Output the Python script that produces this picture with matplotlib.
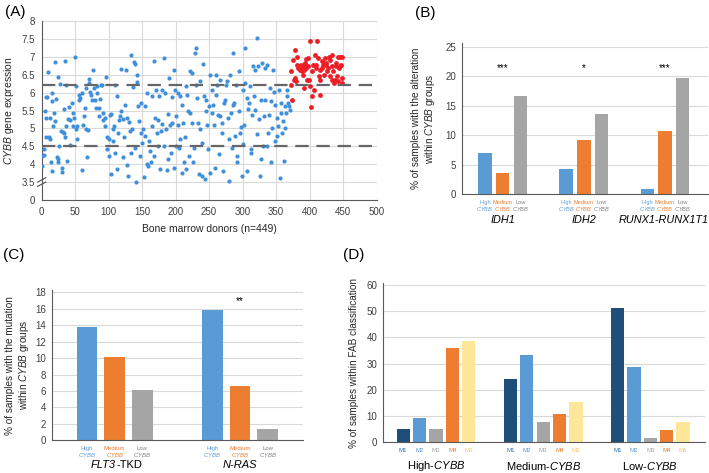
import numpy as np
import matplotlib
matplotlib.use("Agg")
import matplotlib.pyplot as plt

plt.rcParams['font.family'] = ['Liberation Sans', 'DejaVu Sans']
plt.rcParams['mathtext.fontset'] = 'custom'
plt.rcParams['mathtext.rm'] = 'Liberation Sans'
plt.rcParams['mathtext.it'] = 'Liberation Sans:italic'

# ---- panel A: CYBB expression per donor ----
blue_x = [0, 1, 3, 4, 5, 7, 6, 8, 7, 10, 11, 12, 13, 14, 15, 15, 16, 17, 18, 20, 20, 21, 23, 24, 25, 25, 26, 27, 29, 30, 30, 32, 33, 34, 35, 35, 36, 37, 38,
          40, 41, 42, 43, 45, 46, 47, 48, 50, 51, 51, 52, 53, 55, 56, 57, 60, 60, 62, 63, 65, 66, 66, 68, 69, 70, 71, 72, 73, 75, 77, 78, 80, 81, 82, 83, 85, 86,
          87, 89, 90, 91, 92, 94, 95, 96, 97, 98, 100, 101, 102, 103, 104, 106, 107, 108, 109, 110, 112, 113, 114, 115, 117, 118, 119, 121, 122, 123, 124, 126,
          127, 128, 129, 130, 132, 133, 134, 135, 137, 138, 139, 139, 141, 142, 143, 144, 146, 147,
          148, 149, 150, 152, 153, 154, 155, 157, 158, 159, 160, 162, 163, 164, 165, 167, 168, 169, 170, 172, 173, 174, 175, 177, 178, 179, 180, 182, 183, 184,
          185, 187, 188, 189, 190, 192, 193, 194, 195, 197, 198, 199, 200, 201, 203, 204, 205,
          206, 207, 209, 210, 211, 212, 214, 215, 216, 217, 219, 220, 221, 222, 224, 225, 226, 227, 229, 230, 231, 232, 234, 235, 236, 237, 239, 240, 241, 242,
          244, 245, 246, 247, 249, 250, 251, 252, 254, 255, 256, 257, 259, 260, 261, 262, 264, 265,
          266, 267, 269, 270, 271, 272, 274, 275, 276, 278, 279, 280, 281, 282, 284, 285, 286, 287, 289, 290, 291, 292, 294, 295, 296, 297, 299, 300, 301, 302,
          303, 304, 306, 307, 308, 309, 311, 312, 313, 314, 316, 317, 318, 319, 321, 322, 323, 324, 326, 327, 328, 329, 331, 332, 333, 334,
          336, 337, 338, 339, 341, 342, 343, 344, 346, 347, 348, 349, 351, 352, 353, 354, 356, 357, 358, 359, 361, 362, 363, 364, 366, 367, 368, 369, 371, 365]
blue_y = [3.95, 4.23, 4.25, 4.43, 5.48, 5.3, 5.88, 5.87, 4.75, 6.57, 4.75, 5.3, 4.7, 4.05, 5.76, 6.0, 3.8, 5.06, 5.43, 6.85, 5.22, 5.82, 4.2, 4.05, 4.14,
          6.43, 4.5, 6.25, 4.93, 3.9, 3.78, 4.91, 5.55, 4.88, 6.87, 4.76, 6.2, 5.06, 4.1,
          5.25, 5.6, 5.23, 4.53, 5.72, 5.43, 5.06, 5.3, 7.0, 6.19, 4.97, 5.08, 4.7, 5.8, 5.94, 5.85, 3.85, 6.0, 5.1, 5.35, 5.56, 6.13, 4.97, 4.2, 4.95, 6.39,
          6.27, 6.03, 5.92, 5.8, 6.64, 6.13, 5.78, 5.56, 6.18, 6.0, 5.34, 5.57,
          5.82, 6.2, 6.22, 5.23, 5.44, 5.28, 5.08, 6.43, 4.75, 4.43, 4.7, 4.23, 5.37, 5.4, 3.72, 4.64, 4.98, 5.06, 4.3, 6.2, 5.9, 3.87, 4.88, 5.23, 5.34, 5.5,
          6.67, 4.2, 5.25, 4.76, 5.65, 6.63, 5.28, 3.97, 3.66, 5.18, 4.94, 7.05, 4.32, 4.97, 6.15, 6.85, 4.46, 6.8, 3.51, 6.5, 6.29, 5.62, 5.2, 4.23,
          5.72, 4.86, 4.6, 4.98, 3.64, 5.62, 4.78, 4.0, 5.98, 3.95, 4.64, 4.37, 4.06, 5.06, 5.9, 6.89, 4.23, 5.3, 6.08, 4.88, 4.5, 5.23, 5.9, 3.86, 4.93, 6.08,
          5.12, 6.96, 4.5, 5.98, 4.99, 3.84, 4.14, 5.4, 6.42, 5.1, 4.3, 5.88, 5.14, 3.9, 6.62, 6.08, 5.34, 4.5, 5.98, 5.1, 4.44,
          4.7, 5.9, 3.76, 5.64, 5.14, 4.06, 4.76, 3.86, 6.18, 5.92, 5.5, 4.23, 6.6, 5.43, 6.55, 5.14, 4.05, 4.46, 7.1, 6.22, 7.24, 5.84, 5.16, 3.72, 6.32, 4.97,
          3.66, 4.58, 6.8, 5.9, 3.58, 5.48, 5.8, 5.1, 4.43, 5.62, 3.76, 6.5, 6.08, 5.44, 5.64, 5.1, 3.9, 5.94, 6.5, 6.22, 5.37, 4.28,
          6.36, 5.34, 5.14, 4.88, 3.8, 5.72, 5.8, 6.2, 6.32, 5.3, 4.7, 3.54, 6.5, 5.43, 4.46, 5.66, 7.1, 5.72, 4.78, 6.22, 4.05, 4.23, 6.6, 5.48, 4.88, 5.03,
          3.66, 4.56, 6.08, 5.1, 7.24, 6.27, 5.85, 3.8, 5.55, 5.72, 6.18, 4.42, 4.3, 5.37, 6.73, 5.9, 6.64, 5.52, 7.52, 4.83, 6.73, 5.25, 3.66, 5.8, 4.14, 6.82,
          4.5, 5.34, 6.68, 5.8,
          4.5, 6.78, 4.88, 5.37, 6.13, 4.05, 5.76, 5.0, 6.64, 6.03, 5.64, 4.64, 4.78, 5.3, 5.06, 6.08, 3.62, 5.43, 5.72, 4.88, 5.2, 4.1, 5.0, 5.62, 5.9, 6.08,
          5.72, 5.62, 5.52, 5.43]
red_x = [372, 373, 374, 376, 377, 378, 379, 380, 381, 382, 383, 384, 386, 387, 388, 389, 390, 391, 392, 392, 393, 394, 395, 396, 397, 398, 399, 400,
         401, 402, 403, 404, 405, 406, 408, 409, 410, 411, 413, 414, 415, 415, 416, 418, 419, 420, 421, 423, 424, 425, 426, 428, 429, 430, 431, 433, 434,
         434, 435, 436, 438, 439, 440, 441, 443, 443, 444, 445, 446, 448, 449, 449, 447]
red_y = [6.22, 6.6, 5.8, 6.92, 6.36, 7.2, 6.4, 6.32, 7.0, 6.78, 6.69, 6.73, 6.64, 6.78, 6.6, 6.69, 6.5, 6.78, 6.13, 6.64, 6.82, 6.69, 6.94, 6.36, 6.73,
         6.96, 6.36, 7.45, 6.18, 5.6, 6.6, 5.9, 6.78, 6.08, 7.05, 6.69, 6.78, 7.43, 6.96, 6.45, 6.64, 6.36, 5.94, 6.87, 6.69, 6.78, 6.5, 6.96, 6.78, 6.82,
         6.6, 6.69, 7.0, 6.45, 6.92, 6.36, 6.73, 7.05, 6.6, 6.27, 6.36, 6.73, 6.82, 6.45, 6.32, 7.0, 6.69, 7.0, 6.73, 6.4, 6.27, 7.0, 6.78]
cut_high = 6.22
cut_low = 4.5
a_yticks = [3.0, 3.5, 4.0, 4.5, 5.0, 5.5, 6.0, 6.5, 7.0, 7.5, 8.0]
a_ylabels = ['0', '3.5', '4', '4.5', '5', '5.5', '6', '6.5', '7', '7.5', '8']

# ---- panel B ----
b_genes = ['IDH1', 'IDH2', 'RUNX1-RUNX1T1']
b_high = [6.9, 4.2, 0.8]
b_medium = [3.5, 9.1, 10.6]
b_low = [16.6, 13.5, 19.6]
b_stars = ['***', '*', '***']

# ---- panel C ----
c_genes = [('FLT3', '-TKD'), ('N-RAS', '')]
c_high = [13.8, 15.9]
c_medium = [10.1, 6.6]
c_low = [6.1, 1.4]

# ---- panel D ----
d_groups = [r'High-$\mathit{CYBB}$', r'Medium-$\mathit{CYBB}$', r'Low-$\mathit{CYBB}$']
d_fab = ['M1', 'M2', 'M3', 'M4', 'M5']
d_values = [[4.9, 9.0, 4.9, 36.0, 38.7],
            [23.9, 33.2, 7.7, 10.7, 15.2],
            [51.2, 28.8, 1.5, 4.5, 7.7]]

C_BLUE = '#5b9bd5'
C_ORANGE = '#ed7d31'
C_GRAY = '#a5a5a5'
FAB_COLORS = ['#1f4e79', '#5b9bd5', '#a5a5a5', '#ed7d31', '#ffe699']
GRID = '#d9d9d9'
TXT = '#404040'
SUB = [('High', C_BLUE), ('Medium', C_ORANGE), ('Low', '#7f7f7f')]

W, H = 709, 473
fig = plt.figure(figsize=(W / 100, H / 100), dpi=100, facecolor='white')


def px_axes(left, top, right, bottom):
    return fig.add_axes([left / W, 1 - bottom / H, (right - left) / W, (bottom - top) / H])


def style_bar_axes(ax):
    for s in ('top', 'right'):
        ax.spines[s].set_visible(False)
    ax.spines['left'].set_color('#595959')
    ax.spines['bottom'].set_color('#595959')
    ax.yaxis.grid(True, color=GRID, lw=0.8)
    ax.set_axisbelow(True)
    ax.tick_params(axis='y', length=0, labelsize=7, labelcolor=TXT, pad=4)
    ax.set_xticks([])


# panel A
ax = px_axes(41.7, 21, 376.5, 200)
ax.scatter(blue_x, blue_y, s=9, color='#3f8fdb', linewidths=0, zorder=3)
ax.scatter(red_x, red_y, s=12, color='#ee1c25', linewidths=0, zorder=3)
ax.axhline(cut_high, color='#666666', lw=1.6, ls=(0, (6, 3.5)), zorder=4)
ax.axhline(cut_low, color='#666666', lw=1.6, ls=(0, (6, 3.5)), zorder=4)
ax.set_xlim(0, 500)
ax.set_ylim(3.0, 8.0)
ax.set_xticks(range(0, 501, 50))
ax.set_yticks(a_yticks)
ax.set_yticklabels(a_ylabels)
ax.grid(True, color=GRID, lw=0.8)
ax.set_axisbelow(True)
for s in ('top', 'right'):
    ax.spines[s].set_visible(False)
ax.spines['left'].set_color('#595959')
ax.spines['bottom'].set_color('#595959')
ax.tick_params(length=0, labelsize=7, labelcolor=TXT, pad=5)
ax.set_ylabel(r'$\mathit{CYBB}$ gene expression', fontsize=7.5, color='#262626', labelpad=4)
ax.set_xlabel('Bone marrow donors (n=449)', fontsize=7.5, color='#262626', labelpad=5)
for dy in (-0.012, 0.012):
    ax.plot([-0.012, 0.012], [0.1 + dy - 0.012, 0.1 + dy + 0.012], transform=ax.transAxes,
            color='#595959', lw=0.9, clip_on=False, zorder=5)
fig.text(5 / W, 1 - 12 / H, '(A)', fontsize=11, va='center', ha='left')

# panel B
ax = px_axes(461.7, 43, 708, 194)
xb = np.arange(len(b_genes))
bw, off = 0.165, 0.218
ax.bar(xb - off, b_high, bw, color=C_BLUE)
ax.bar(xb, b_medium, bw, color=C_ORANGE)
ax.bar(xb + off, b_low, bw, color=C_GRAY)
ax.set_xlim(-0.505, 2.53)
ax.set_ylim(0, 25.6)
ax.set_yticks(range(0, 26, 5))
style_bar_axes(ax)
for i, st in enumerate(b_stars):
    ax.text(xb[i], 21.3, st, ha='center', va='center', fontsize=7)
    for k, (lab, col) in enumerate(SUB):
        ax.annotate(lab + '\n' + r'$\mathit{CYBB}$', xy=(xb[i] + (k - 1) * off, 0), xycoords=('data', 'axes fraction'),
                    xytext=(0, -4), textcoords='offset points', ha='center', va='top', fontsize=4.1,
                    color=col, linespacing=1.0)
    ax.annotate(b_genes[i], xy=(xb[i], 0), xycoords=('data', 'axes fraction'), xytext=(-1 if i == 2 else 0, -19),
                textcoords='offset points', ha='center', va='center', fontsize=7.8, style='italic')
ax.set_ylabel('% of samples with the alteration\nwithin $\\mathit{CYBB}$ groups', fontsize=7.2,
              color='#262626', labelpad=6)
fig.text(415 / W, 1 - 13 / H, '(B)', fontsize=11, va='center', ha='left')

# panel C
ax = px_axes(51.7, 290, 302.7, 440.3)
xc = np.arange(len(c_genes))
bw, off = 0.165, 0.221
ax.bar(xc - off, c_high, bw, color=C_BLUE)
ax.bar(xc, c_medium, bw, color=C_ORANGE)
ax.bar(xc + off, c_low, bw, color=C_GRAY)
ax.set_xlim(-0.503, 1.5)
ax.set_ylim(0, 18.3)
ax.set_yticks(range(0, 19, 2))
style_bar_axes(ax)
ax.text(xc[1], 17.0, '**', ha='center', va='center', fontsize=7)
for i in range(len(c_genes)):
    for k, (lab, col) in enumerate(SUB):
        ax.annotate(lab + '\n' + r'$\mathit{CYBB}$', xy=(xc[i] + (k - 1) * off, 0), xycoords=('data', 'axes fraction'),
                    xytext=(0, -4), textcoords='offset points', ha='center', va='top', fontsize=4.3,
                    color=col, linespacing=1.0)
    ital, plain = c_genes[i]
    if plain:
        ax.annotate(ital, xy=(xc[i], 0), xycoords=('data', 'axes fraction'), xytext=(1, -18),
                    textcoords='offset points', ha='right', va='center', fontsize=8, style='italic')
        ax.annotate(plain, xy=(xc[i], 0), xycoords=('data', 'axes fraction'), xytext=(1, -18),
                    textcoords='offset points', ha='left', va='center', fontsize=8)
    else:
        ax.annotate(ital, xy=(xc[i], 0), xycoords=('data', 'axes fraction'), xytext=(0, -18),
                    textcoords='offset points', ha='center', va='center', fontsize=8, style='italic')
ax.set_ylabel('% of samples with the mutation\nwithin $\\mathit{CYBB}$ groups', fontsize=7.2,
              color='#262626', labelpad=3)
fig.text(3 / W, 1 - 255 / H, '(C)', fontsize=11, va='center', ha='left')

# panel D
ax = px_axes(382.7, 283.3, 705, 441.7)
xd = np.arange(len(d_groups))
bw, step = 0.124, 0.153
for j, fab in enumerate(d_fab):
    vals = [row[j] for row in d_values]
    ax.bar(xd + (j - 2) * step, vals, bw, color=FAB_COLORS[j])
ax.set_xlim(-0.497, 2.51)
ax.set_ylim(0, 60.8)
ax.set_yticks(range(0, 61, 10))
style_bar_axes(ax)
lab_cols = ['#2e75b6', '#5b9bd5', '#a5a5a5', '#ed7d31', '#f4c26b']
for i in range(len(d_groups)):
    for j, fab in enumerate(d_fab):
        ax.annotate(fab, xy=(xd[i] + (j - 2) * step, 0), xycoords=('data', 'axes fraction'),
                    xytext=(0, -4.5), textcoords='offset points', ha='center', va='top', fontsize=4.4,
                    color=lab_cols[j])
    ax.annotate(d_groups[i], xy=(xd[i], 0), xycoords=('data', 'axes fraction'), xytext=(0, -17.5),
                textcoords='offset points', ha='center', va='center', fontsize=8)
ax.set_ylabel('% of samples within FAB classification', fontsize=7.2, color='#262626', labelpad=5)
fig.text(343 / W, 1 - 255 / H, '(D)', fontsize=11, va='center', ha='left')

fig.savefig('out.png', dpi=100, facecolor='white')
